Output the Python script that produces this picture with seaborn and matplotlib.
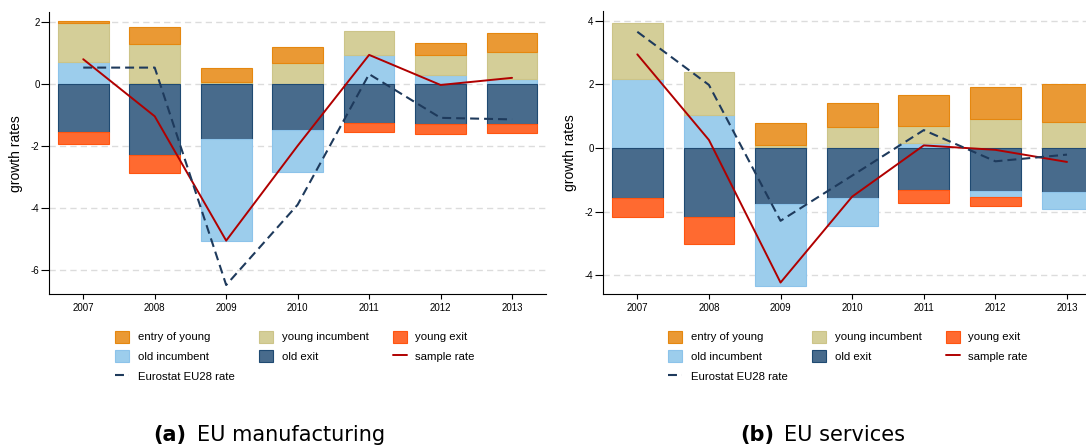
import numpy as np
import matplotlib
matplotlib.use("Agg")
import matplotlib.pyplot as plt
import seaborn as sns
from matplotlib.patches import Patch
from matplotlib.lines import Line2D

years = ["2007", "2008", "2009", "2010", "2011", "2012", "2013"]

# (a) EU manufacturing
man_entry = [0.07, 0.57, 0.45, 0.50, 0.00, 0.37, 0.61]
man_young_inc = [1.25, 1.25, 0.05, 0.67, 0.76, 0.66, 0.88]
man_young_exit = [-0.40, -0.58, 0.00, 0.00, -0.29, -0.32, -0.31]
man_old_inc = [0.70, 0.02, -3.29, -1.36, 0.93, 0.27, 0.14]
man_old_exit = [-1.55, -2.31, -1.79, -1.48, -1.26, -1.31, -1.29]
man_sample = [0.79, -1.05, -5.06, -2.00, 0.93, -0.04, 0.19]
man_eurostat = [0.52, 0.52, -6.49, -3.90, 0.31, -1.10, -1.15]

# (b) EU services
ser_entry = [0.00, 0.00, 0.69, 0.73, 0.97, 1.02, 1.18]
ser_young_inc = [1.76, 1.35, 0.09, 0.67, 0.54, 0.91, 0.83]
ser_young_exit = [-0.62, -0.84, 0.00, 0.00, -0.40, -0.28, 0.00]
ser_old_inc = [2.17, 1.04, -2.56, -0.86, 0.15, -0.18, -0.56]
ser_old_exit = [-1.56, -2.18, -1.77, -1.58, -1.32, -1.35, -1.37]
ser_sample = [2.94, 0.25, -4.23, -1.53, 0.08, -0.06, -0.44]
ser_eurostat = [3.65, 1.98, -2.29, -0.87, 0.56, -0.42, -0.21]

face = {"entry of young": "#EA9934", "young incumbent": "#D4CE98",
        "young exit": "#FF6A30", "old incumbent": "#9CCDEC", "old exit": "#486B8C"}
edge = {"entry of young": "#E5870F", "young incumbent": "#CCC488",
        "young exit": "#FF5510", "old incumbent": "#8CC3EA", "old exit": "#1F4A72"}
red = "#B00000"
navy = "#1E3A5C"
euro_dash = (0, (4.3, 2.4))

sns.set_style("ticks")
plt.rcParams["font.family"] = ["Liberation Sans", "DejaVu Sans"]
plt.rcParams["axes.unicode_minus"] = False
for k in ("text.color", "axes.labelcolor", "xtick.color", "ytick.color"):
    plt.rcParams[k] = "black"

W, H = 1086, 446
fig = plt.figure(figsize=(W / 100, H / 100), dpi=100)


def px_axes(x0, x1, top, bottom):
    return fig.add_axes([x0 / W, 1 - bottom / H, (x1 - x0) / W, (bottom - top) / H])


def draw_panel(ax, entry, young_inc, young_exit, old_inc, old_exit, sample, eurostat, ylim, yticks):
    entry, young_inc, young_exit, old_inc, old_exit = map(
        np.asarray, (entry, young_inc, young_exit, old_inc, old_exit))
    oi_pos = np.clip(old_inc, 0, None)
    oi_neg = np.clip(old_inc, None, 0)
    stacks = [
        ("old incumbent", oi_pos, np.zeros(len(years))),
        ("young incumbent", young_inc, oi_pos),
        ("entry of young", entry, oi_pos + young_inc),
        ("old exit", old_exit, np.zeros(len(years))),
        ("old incumbent", oi_neg, old_exit),
        ("young exit", young_exit, old_exit + oi_neg),
    ]
    for key, vals, base in stacks:
        sns.barplot(x=years, y=vals, bottom=base, color=face[key], edgecolor=edge[key],
                    linewidth=0.8, width=0.71, saturation=1, ax=ax)
    for p in ax.patches:
        if abs(p.get_height()) < 1e-6:
            p.set_linewidth(0)

    sns.lineplot(x=years, y=sample, color=red, linewidth=1.4, ax=ax)
    sns.lineplot(x=years, y=eurostat, color=navy, linewidth=1.5, linestyle=euro_dash, ax=ax)

    ax.set_xlim(-0.475, 6.475)
    ax.set_ylim(*ylim)
    ax.set_yticks(yticks)
    ax.yaxis.grid(True, color="#DCDCDC", linestyle=(0, (4.5, 3)), linewidth=1)
    ax.set_axisbelow(True)
    sns.despine(ax=ax)
    for s in ("left", "bottom"):
        ax.spines[s].set_linewidth(0.8)
        ax.spines[s].set_color("black")
    ax.tick_params(axis="y", direction="out", length=5.5, width=0.8, labelsize=7, pad=1.5)
    ax.tick_params(axis="x", direction="out", length=3.6, width=0.8, labelsize=7, pad=3)
    ax.set_xlabel("")
    ax.set_ylabel("growth rates", fontsize=10)
    ax.yaxis.set_label_coords(-0.052, 0.5)


ax1 = px_axes(49.3, 546, 12.4, 294)
draw_panel(ax1, man_entry, man_young_inc, man_young_exit, man_old_inc, man_old_exit,
           man_sample, man_eurostat, (-6.78, 2.3), [-6, -4, -2, 0, 2])

ax2 = px_axes(603.3, 1101, 11.1, 294)
draw_panel(ax2, ser_entry, ser_young_inc, ser_young_exit, ser_old_inc, ser_old_exit,
           ser_sample, ser_eurostat, (-4.59, 4.3), [-4, -2, 0, 2, 4])


def legend_handles():
    h = {k: Patch(facecolor=face[k], edgecolor=edge[k], linewidth=0.8) for k in face}
    h["sample rate"] = Line2D([], [], color=red, linewidth=1.4)
    h["Eurostat EU28 rate"] = Line2D([], [], color=navy, linewidth=1.5, linestyle=euro_dash)
    # column-wise order so rows read like the original
    order = ["entry of young", "old incumbent", "Eurostat EU28 rate",
             "young incumbent", "old exit", "young exit", "sample rate"]
    return [h[k] for k in order], order


for x_left in (115, 668):
    hs, ls = legend_handles()
    fig.legend(hs, ls, loc="upper left", bbox_to_anchor=(x_left / W, 1 - 330.5 / H),
               ncol=3, frameon=False, fontsize=8.2, handlelength=1.25, handleheight=1.25,
               handletextpad=0.75, columnspacing=2.12, labelspacing=0.68,
               borderpad=0, borderaxespad=0)

# panel captions
cap_y = 1 - 441 / H
fig.text(186 / W, cap_y, "(a)", ha="right", va="baseline", fontsize=15,
         fontweight="bold", family="DejaVu Sans")
fig.text(196.7 / W, cap_y, "EU manufacturing", ha="left", va="baseline", fontsize=15,
         family="DejaVu Sans")
fig.text(774 / W, cap_y, "(b)", ha="right", va="baseline", fontsize=15,
         fontweight="bold", family="DejaVu Sans")
fig.text(784 / W, cap_y, "EU services", ha="left", va="baseline", fontsize=15,
         family="DejaVu Sans")

fig.savefig("out.png", dpi=100)
